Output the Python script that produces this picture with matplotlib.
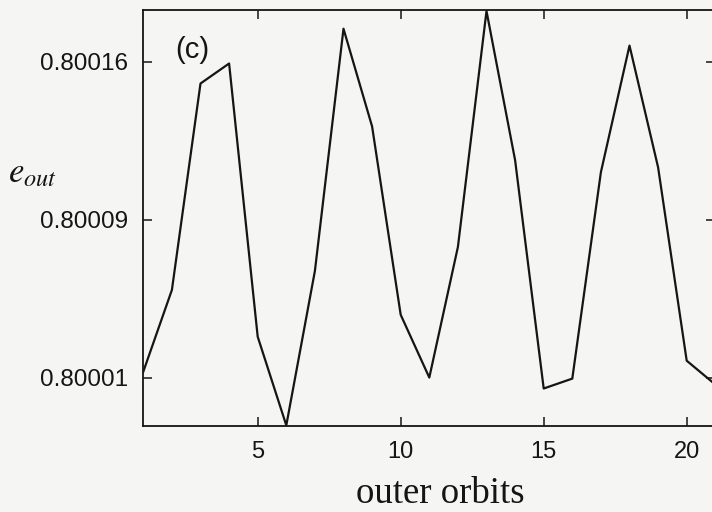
import matplotlib.pyplot as plt
from matplotlib.ticker import FixedLocator

# outer orbit index and outer eccentricity
orbits = list(range(1, 22))
e_out = [
    0.8000128, 0.8000516, 0.8001496, 0.8001591, 0.8000294,
    0.7999873, 0.8000606, 0.8001756, 0.8001292, 0.8000398,
    0.8000100, 0.8000720, 0.8001840, 0.8001132, 0.8000048,
    0.8000095, 0.8001075, 0.8001676, 0.8001098, 0.8000180,
    0.8000067,
]

x_ticks = [5, 10, 15, 20]
y_ticks = [0.80001, 0.800085, 0.80016]
y_tick_labels = ["0.80001", "0.80009", "0.80016"]

paper = "#f5f5f3"
ink = "#151515"

plt.rcParams.update({
    "font.family": "Liberation Sans",
    "mathtext.fontset": "stix",
})

fig = plt.figure(figsize=(7.12, 5.12), dpi=100, facecolor=paper)
# axes run past the right edge of the figure, as in the cropped scan
ax = fig.add_axes([143.3 / 712, 86 / 512, 572 / 712, 416 / 512])
ax.set_facecolor(paper)

ax.plot(orbits, e_out, color=ink, linewidth=1.6)

ax.set_xlim(1, 21)
ax.set_ylim(0.799987, 0.8001845)

ax.xaxis.set_major_locator(FixedLocator(x_ticks))
ax.yaxis.set_major_locator(FixedLocator(y_ticks))
ax.set_yticklabels(y_tick_labels)

ax.tick_params(
    which="both", direction="in", top=True, right=True,
    length=6.5, width=1.1, color=ink, labelcolor=ink,
)
ax.tick_params(axis="x", pad=11, labelsize=17)
ax.tick_params(axis="y", pad=11, labelsize=17.5)
for spine in ax.spines.values():
    spine.set_linewidth(1.3)
    spine.set_color(ink)

ax.set_xlabel("outer orbits", family="Liberation Serif", fontsize=26.5,
              color=ink, va="baseline")
ax.xaxis.set_label_coords(0.519, -0.185)

fig.text(8 / 712, 1 - 182 / 512, r"$e_{out}$", fontsize=25, color=ink,
         ha="left", va="baseline")
fig.text(175 / 712, 1 - 50 / 512, "(c)", fontsize=21, color=ink,
         ha="left", va="center")

fig.savefig("out.png", dpi=100, facecolor=paper)
